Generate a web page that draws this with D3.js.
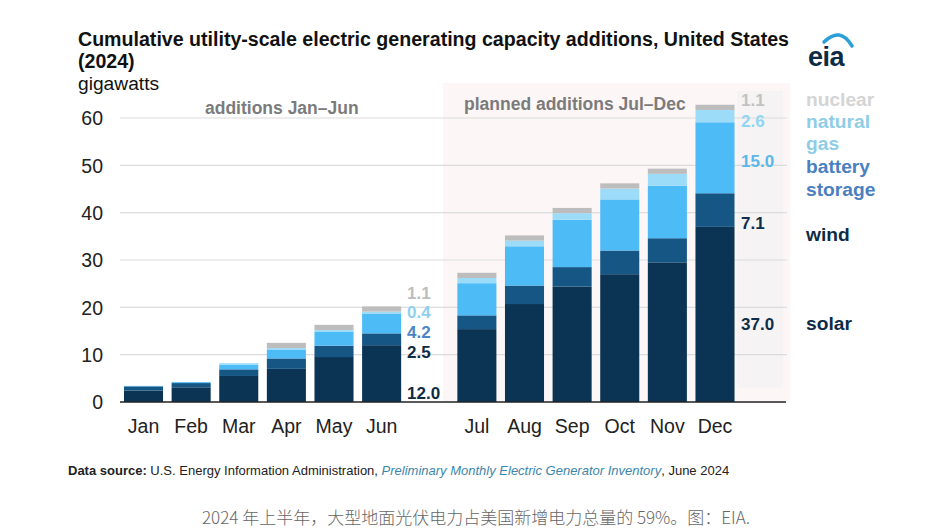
<!DOCTYPE html>
<html><head><meta charset="utf-8">
<script src="https://cdn.jsdelivr.net/npm/d3@7"></script>
<style>
body{margin:0;background:#fff;}
svg{display:block;font-family:"Liberation Sans",Arial,sans-serif;}
</style></head>
<body><svg id="c" width="935" height="531"></svg>
<script>
const months = ["Jan","Feb","Mar","Apr","May","Jun","Jul","Aug","Sep","Oct","Nov","Dec"];
const solar   = [2.4, 3.1, 5.5, 7.0, 9.5, 12.0, 15.4, 20.7, 24.4, 27.0, 29.5, 37.0];
const wind    = [0.9, 0.9, 1.4, 2.2, 2.4, 2.5, 2.9, 3.9, 4.1, 5.0, 5.1, 7.1];
const battery = [0.1, 0.2, 1.0, 1.9, 3.0, 4.2, 6.8, 8.3, 10.0, 10.8, 11.1, 15.0];
const gas     = [0.0, 0.0, 0.3, 0.3, 0.3, 0.4, 1.1, 1.2, 1.4, 2.3, 2.5, 2.6];
const nuclear = [0.0, 0.0, 0.0, 1.1, 1.1, 1.1, 1.1, 1.1, 1.1, 1.1, 1.1, 1.1];
const seriesKeys = ["solar","wind","battery","gas","nuclear"];
const seriesColors = ["#0b3454","#155685","#4dbbf6","#9ddcf9","#bdbdbd"];
const yTicks = [0,10,20,30,40,50,60];
const legendItems = [["nuclear"],["natural","gas"],["battery","storage"],["wind"],["solar"]];
const legendColors = ["#d4d4d4","#8ecde6","#4a80bf","#0d2b45","#0d2b45"];

const svg = d3.select("#c");
const data = months.map((m,i)=>({month:m, solar:solar[i], wind:wind[i], battery:battery[i], gas:gas[i], nuclear:nuclear[i]}));
const slots = [...months.slice(0,6), "_gap", ...months.slice(6)];

const x = d3.scaleBand().domain(slots).range([119.7, 738.8]).paddingInner(0.18).paddingOuter(0.09);
const y = d3.scaleLinear().domain([0,60]).range([402,118]);
const color = d3.scaleOrdinal().domain(seriesKeys).range(seriesColors);

// planned shade
svg.append("rect").attr("x",443).attr("y",83).attr("width",347).attr("height",319).attr("fill","#fcf6f6");
svg.append("rect").attr("x",737).attr("y",91).attr("width",46).attr("height",297).attr("fill","#f5f3f3");

// gridlines
svg.append("g").selectAll("line").data(yTicks.filter(d=>d>0)).join("line")
  .attr("x1",120).attr("x2",787).attr("y1",d=>y(d)).attr("y2",d=>y(d))
  .attr("stroke","#dcdcdc").attr("stroke-width",1.2);

// y axis labels
const yAxis = d3.axisLeft(y).tickValues(yTicks).tickSize(0).tickPadding(0);
const ya = svg.append("g").attr("transform","translate(103,0)").call(yAxis);
ya.select(".domain").remove();
ya.selectAll("text").attr("font-size",19.5).attr("fill","#222").attr("dy","0.35em").style("font-family","Liberation Sans, Arial, sans-serif");

// stacked bars
const stack = d3.stack().keys(seriesKeys)(data);
svg.append("g").selectAll("g").data(stack).join("g").attr("fill",d=>color(d.key))
  .selectAll("rect").data(d=>d).join("rect")
  .attr("x",d=>x(d.data.month)).attr("width",x.bandwidth())
  .attr("y",d=>y(d[1])).attr("height",d=>Math.max(0,y(d[0])-y(d[1])));

// baseline
svg.append("line").attr("x1",120).attr("x2",786).attr("y1",y(0)).attr("y2",y(0)).attr("stroke","#222").attr("stroke-width",1.6);

// x axis labels
const xAxis = d3.axisBottom(x).tickValues(months).tickSize(0).tickPadding(0);
const xa = svg.append("g").attr("transform","translate(0,426)").call(xAxis);
xa.select(".domain").remove();
xa.selectAll("text").attr("font-size",19.5).attr("fill","#222").attr("dy","0.35em").style("font-family","Liberation Sans, Arial, sans-serif");

// value labels for Jun and Dec
const junLabels = [{v:nuclear[5],y:293,c:"#bdbdbd"},{v:gas[5],y:312,c:"#8fd0f0"},{v:battery[5],y:332,c:"#4a86c5"},{v:wind[5],y:352,c:"#0d2b45"},{v:solar[5],y:393,c:"#0d2b45"}];
const decLabels = [{v:nuclear[11],y:100,c:"#c2c2c2"},{v:gas[11],y:121,c:"#8fd6f5"},{v:battery[11],y:161,c:"#5ab8ea"},{v:wind[11],y:223,c:"#0f2e4a"},{v:solar[11],y:324,c:"#0f2e4a"}];
function drawLabels(arr, xpos){
  svg.append("g").selectAll("text").data(arr).join("text")
    .attr("x",xpos).attr("y",d=>d.y).attr("dy","0.35em")
    .attr("font-size",17).attr("font-weight","bold").attr("fill",d=>d.c)
    .text(d=>d.v.toFixed(1));
}
drawLabels(junLabels, 407);
drawLabels(decLabels, 741);

// legend
const legPos = [[99],[121,143],[166,189],[234],[323]];
legendItems.forEach((lines,i)=>{
  lines.forEach((t,j)=>{
    svg.append("text").attr("x",806).attr("y",legPos[i][j]).attr("dy","0.35em")
      .attr("font-size",19.2).attr("font-weight","bold").attr("fill",legendColors[i]).text(t);
  });
});

// group labels
svg.append("text").attr("x",205).attr("y",108).attr("dy","0.35em").attr("font-size",17.5).attr("font-weight","bold").attr("fill","#7b7b7b").text("additions Jan\u2013Jun");
svg.append("text").attr("x",464).attr("y",104).attr("dy","0.35em").attr("font-size",17.5).attr("font-weight","bold").attr("fill","#7b7b7b").text("planned additions Jul\u2013Dec");

// title
svg.append("text").attr("x",78).attr("y",46).attr("font-size",19.6).attr("font-weight","bold").attr("fill","#111").text("Cumulative utility-scale electric generating capacity additions, United States");
svg.append("text").attr("x",78).attr("y",68).attr("font-size",19.6).attr("font-weight","bold").attr("fill","#111").text("(2024)");
svg.append("text").attr("x",78).attr("y",90).attr("font-size",19.2).attr("fill","#111").text("gigawatts");

// eia logo
const logo = svg.append("g");
logo.append("path").attr("d","M824,42 Q840,26 852,46").attr("fill","none").attr("stroke","#2a9fd8").attr("stroke-width",3.5).attr("stroke-linecap","round");
logo.append("text").attr("x",808).attr("y",66).attr("font-size",27).attr("font-weight","bold").attr("fill","#0d2b45").attr("letter-spacing","-0.5").text("eia");

// footer
const ft = svg.append("text").attr("x",68).attr("y",475).attr("font-size",13).attr("fill","#222");
ft.append("tspan").attr("font-weight","bold").text("Data source:");
ft.append("tspan").text(" U.S. Energy Information Administration, ");
ft.append("tspan").attr("font-style","italic").attr("fill","#3b86ab").text("Preliminary Monthly Electric Generator Inventory");
ft.append("tspan").text(", June 2024");

svg.append("text").attr("x",476).attr("y",524).attr("text-anchor","middle").attr("font-size",17).attr("fill","#666")
  .style("font-family","'Noto Sans CJK SC', sans-serif").style("font-weight","300")
  .text("2024 年上半年，大型地面光伏电力占美国新增电力总量的 59%。图：EIA.");
</script></body></html>
